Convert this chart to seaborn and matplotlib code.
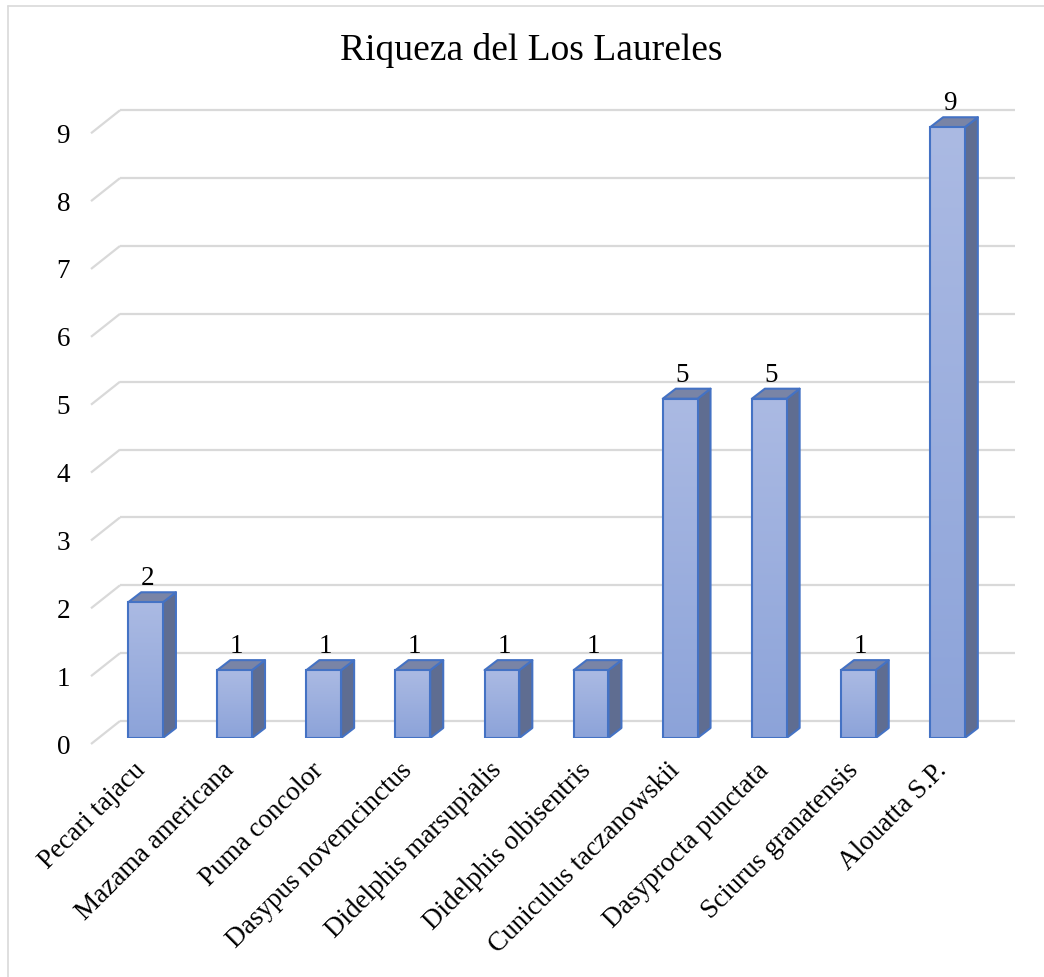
import numpy as np
import matplotlib
matplotlib.use("Agg")
import matplotlib.pyplot as plt
import seaborn as sns
from matplotlib.patches import Polygon
from matplotlib.transforms import ScaledTranslation
from matplotlib.colors import LinearSegmentedColormap
from matplotlib.lines import Line2D

# ---------------- data ----------------
species = ["Pecari tajacu", "Mazama americana", "Puma concolor", "Dasypus novemcinctus",
           "Didelphis marsupialis", "Didelphis olbisentris", "Cuniculus taczanowskii",
           "Dasyprocta punctata", "Sciurus granatensis", "Alouatta S.P."]
counts = [2, 1, 1, 1, 1, 1, 5, 5, 1, 9]
yticks = list(range(10))
title = "Riqueza del Los Laureles"

# ---------------- style ----------------
W, H, DPI = 1044, 977, 100
sns.set_theme(style="white")
plt.rcParams['font.family'] = ['Liberation Serif', 'DejaVu Serif']
FS = 19.5
EDGE = "#4472C4"
SIDE = "#5F6D91"
TOP = "#7984A6"
GRID = "#D9D9D9"
PT = 72.0 / DPI  # points per pixel

fig = plt.figure(figsize=(W / DPI, H / DPI), dpi=DPI)
fig.patch.set_facecolor("white")

ax_left_px, ax_right_px = 101, 992
ax_zero_px, ax_top_px = 738, 80
px_y = 67.86
ax = fig.add_axes([ax_left_px / W, (H - ax_zero_px) / H,
                   (ax_right_px - ax_left_px) / W, (ax_zero_px - ax_top_px) / H])
XMIN, XMAX = -0.5, 9.5
YMAX = (ax_zero_px - ax_top_px) / px_y
px_x = (ax_right_px - ax_left_px) / (XMAX - XMIN)

sns.barplot(x=species, y=counts, color="#9DB0DF", saturation=1, width=0.39,
            errorbar=None, edgecolor=EDGE, linewidth=1.5, ax=ax, zorder=3)
ax.set_xlim(XMIN, XMAX)
ax.set_ylim(0, YMAX)

# gradient fill on front faces + 3D side/top faces
cmap = LinearSegmentedColormap.from_list("g", ["#8CA3D9", "#ABBAE3"])
grad = np.linspace(0, 1, 256).reshape(-1, 1)
dx, dy = 13 / px_x, 10 / px_y
for p in list(ax.patches):
    x0, y0, w, h = p.get_x(), p.get_y(), p.get_width(), p.get_height()
    x1, y1 = x0 + w, y0 + h
    im = ax.imshow(grad, extent=[x0, x1, y0, y1], origin="lower", cmap=cmap,
                   aspect="auto", zorder=3.05, interpolation="bilinear")
    im.set_clip_path(p)
    p.set_facecolor("none")
    p.set_zorder(3.2)
    side = Polygon([(x1, y0), (x1 + dx, y0 + dy), (x1 + dx, y1 + dy), (x1, y1)],
                   closed=True, facecolor=SIDE, edgecolor=EDGE, lw=1.5, zorder=2.9,
                   joinstyle="round")
    topf = Polygon([(x0, y1), (x0 + dx, y1 + dy), (x1 + dx, y1 + dy), (x1, y1)],
                   closed=True, facecolor=TOP, edgecolor=EDGE, lw=1.5, zorder=2.9,
                   joinstyle="round")
    ax.add_patch(side)
    ax.add_patch(topf)
ax.set_xlim(XMIN, XMAX)
ax.set_ylim(0, YMAX)

# back-wall gridlines with perspective stubs
wall_x0 = (120 - ax_left_px) / px_x + XMIN
wall_x1 = (1015 - ax_left_px) / px_x + XMIN
front_x = (91 - ax_left_px) / px_x + XMIN
wall_dy = 17 / px_y
front_dy = -6 / px_y
for k in yticks:
    ax.plot([wall_x0, wall_x1], [k + wall_dy] * 2, color=GRID, lw=1.6,
            clip_on=False, zorder=0.5, solid_capstyle="butt")
    ax.plot([front_x, wall_x0], [k + front_dy, k + wall_dy], color=GRID, lw=1.6,
            clip_on=False, zorder=0.5, solid_capstyle="butt")

# axes ticks / labels
for s in ax.spines.values():
    s.set_visible(False)
ax.set_xlabel("")
ax.set_ylabel("")
ax.set_yticks(yticks)
ax.set_yticklabels([str(v) for v in yticks], fontsize=FS, color="black")
ax.tick_params(axis="y", length=0, pad=31 * PT)
yoff = ScaledTranslation(0, -6 / DPI, fig.dpi_scale_trans)
for lab in ax.get_yticklabels():
    lab.set_transform(lab.get_transform() + yoff)

ax.set_xticks(range(len(species)))
ax.set_xticklabels(species, rotation=45, ha="right", va="top",
                   rotation_mode="anchor", fontsize=FS, color="black")
ax.tick_params(axis="x", length=0, pad=20 * PT)
xoff = ScaledTranslation(-13 / DPI, 0, fig.dpi_scale_trans)
for lab in ax.get_xticklabels():
    lab.set_transform(lab.get_transform() + xoff)

# data labels
texts = ax.bar_label(ax.containers[0], labels=[str(v) for v in counts],
                     fontsize=FS, color="black")
for t in texts:
    t.xyann = (2 * PT, 17 * PT)
    t.set_va("baseline")
    t.set_zorder(5)

# title and chart border
fig.text(531 / W, 1 - 60 / H, title, ha="center", va="baseline", fontsize=27,
         color="black")
fig.add_artist(Line2D([8 / W, 1], [1 - 6 / H] * 2, transform=fig.transFigure,
                      color=GRID, lw=1.2))
fig.add_artist(Line2D([8 / W, 8 / W], [0, 1 - 6 / H], transform=fig.transFigure,
                      color=GRID, lw=1.2))

fig.savefig("out.png", dpi=DPI, facecolor="white")
